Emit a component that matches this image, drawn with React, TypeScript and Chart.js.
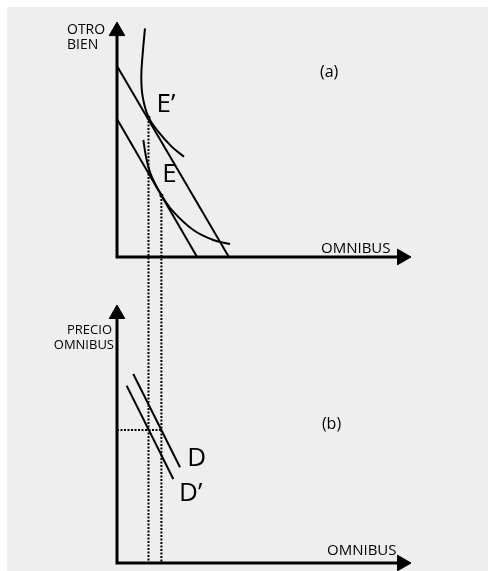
import React, { useEffect, useRef } from "react";
import { Chart, registerables } from "chart.js";
Chart.register(...registerables);

// ---------- Data (diagram units) ----------
// Panel (a): x = omnibus, y = other good
const budgetHighX = [0, 37.3];
const budgetHighY = [63.7, 0];
const budgetLowX = [0, 26.7];
const budgetLowY = [46, 0];
const indiffHighX = [9.33, 8.57, 8.1, 8.57, 10.43, 13.77, 18.23, 22.33];
const indiffHighY = [76.2, 67.9, 60.1, 53.4, 46.8, 41.8, 36.8, 33.4];
const indiffLowX = [8.77, 9.9, 11.57, 14.67, 18.77, 25.43, 32.1, 37.67];
const indiffLowY = [39, 32.3, 26.8, 20.9, 15.1, 9, 5.67, 4.33];
const eqLabels = ["E’", "E"];
const eqQuantity = [10.5, 14.8];
const eqOtherGood = [46.5, 20.5];
// Panel (b): x = omnibus, y = price of omnibus
const demandDX = [5.43, 21];
const demandDY = [63, 31.9];
const demandD2X = [3.23, 18.77];
const demandD2Y = [59.1, 28];
const busPrice = 44.3;
// Axis extents (diagram units)
const axisAX = 95;
const axisAY = 75.3;
const axisBX = 95;
const axisBY = 83;

// ---------- Layout ----------
const W = 488;
const H = 571;
const PX = 3; // pixels per unit
const ORIGIN_X = 117;
const ORIGIN_A_Y = 257;
const ORIGIN_B_Y = 563;
const FONT = "'Open Sans', 'DejaVu Sans', sans-serif";

const pts = (xs: number[], ys: number[]) => xs.map((x, i) => ({ x, y: ys[i] }));

type Label = { text: string; x: number; y: number; axis: "ya" | "yb"; size: number; align: CanvasTextAlign };
const labels: Label[] = [
  { text: "OTRO", x: -16.67, y: 74.33, axis: "ya", size: 14, align: "left" },
  { text: "BIEN", x: -16.67, y: 69.33, axis: "ya", size: 14, align: "left" },
  { text: "(a)", x: 67.67, y: 60, axis: "ya", size: 16, align: "left" },
  { text: eqLabels[0], x: 13.2, y: 48.3, axis: "ya", size: 26, align: "left" },
  { text: eqLabels[1], x: 15.1, y: 25.1, axis: "ya", size: 26, align: "left" },
  { text: "OMNIBUS", x: 68, y: 1.33, axis: "ya", size: 15, align: "left" },
  { text: "PRECIO", x: -1.67, y: 76.3, axis: "yb", size: 13, align: "right" },
  { text: "OMNIBUS", x: -1, y: 71.3, axis: "yb", size: 13, align: "right" },
  { text: "(b)", x: 68.3, y: 44.7, axis: "yb", size: 16, align: "left" },
  { text: "D", x: 23.4, y: 32.3, axis: "yb", size: 26, align: "left" },
  { text: "D’", x: 20.7, y: 20.7, axis: "yb", size: 26, align: "left" },
  { text: "OMNIBUS", x: 70, y: 2.67, axis: "yb", size: 15, align: "left" },
];

const overlayPlugin = {
  id: "overlay",
  afterDatasetsDraw(chart: any) {
    const ctx = chart.ctx as CanvasRenderingContext2D;
    const sx = chart.scales.x;
    const ya = chart.scales.ya;
    const yb = chart.scales.yb;
    ctx.save();
    // vertical dotted lines from equilibria down to panel (b)
    ctx.strokeStyle = "#000";
    ctx.lineWidth = 2;
    ctx.setLineDash([2, 1.5]);
    eqQuantity.forEach((q, i) => {
      const px = sx.getPixelForValue(q);
      ctx.beginPath();
      ctx.moveTo(px, ya.getPixelForValue(eqOtherGood[i]));
      ctx.lineTo(px, yb.getPixelForValue(0));
      ctx.stroke();
    });
    ctx.setLineDash([]);
    // labels
    ctx.fillStyle = "#000";
    ctx.textBaseline = "alphabetic";
    labels.forEach((l) => {
      const s = l.axis === "ya" ? ya : yb;
      ctx.font = `${l.size}px ${FONT}`;
      ctx.textAlign = l.align;
      ctx.fillText(l.text, sx.getPixelForValue(l.x), s.getPixelForValue(l.y));
    });
    ctx.restore();
  },
};

export default function App() {
  const ref = useRef<HTMLCanvasElement | null>(null);
  useEffect(() => {
    if (!ref.current) return;
    const line = (data: any[], axis: string, extra: any = {}) => ({
      data,
      yAxisID: axis,
      showLine: true,
      borderColor: "#000",
      backgroundColor: "#000",
      borderWidth: 2,
      pointRadius: 0,
      fill: false,
      tension: 0,
      clip: false,
      ...extra,
    });
    const axisStyle = {
      borderWidth: 3,
      borderJoinStyle: "miter",
      borderCapStyle: "butt",
      pointStyle: "triangle",
      pointRadius: [9, 0, 9],
      rotation: [0, 0, 90],
      pointBackgroundColor: "#000",
      pointBorderColor: "#000",
      pointBorderWidth: 1,
    };
    const chart = new Chart(ref.current, {
      type: "scatter",
      data: {
        datasets: [
          line([{ x: 0, y: axisAY }, { x: 0, y: 0 }, { x: axisAX, y: 0 }], "ya", axisStyle),
          line([{ x: 0, y: axisBY }, { x: 0, y: 0 }, { x: axisBX, y: 0 }], "yb", axisStyle),
          line(pts(budgetHighX, budgetHighY), "ya"),
          line(pts(budgetLowX, budgetLowY), "ya"),
          line(pts(indiffHighX, indiffHighY), "ya", { tension: 0.4 }),
          line(pts(indiffLowX, indiffLowY), "ya", { tension: 0.4 }),
          line(pts(eqQuantity, eqOtherGood), "ya", { showLine: false, pointRadius: 2, pointBorderWidth: 0 }),
          line(pts(demandDX, demandDY), "yb"),
          line(pts(demandD2X, demandD2Y), "yb"),
          line([{ x: 0, y: busPrice }, { x: eqQuantity[1], y: busPrice }], "yb", { borderDash: [2, 1.5] }),
        ],
      },
      options: {
        responsive: false,
        animation: false,
        events: [],
        layout: { padding: 0, autoPadding: false },
        plugins: { legend: { display: false }, tooltip: { enabled: false } },
        scales: {
          x: { type: "linear", display: false, min: -ORIGIN_X / PX, max: (W - ORIGIN_X) / PX },
          ya: { type: "linear", display: false, min: -(H - ORIGIN_A_Y) / PX, max: ORIGIN_A_Y / PX },
          yb: { type: "linear", display: false, min: -(H - ORIGIN_B_Y) / PX, max: ORIGIN_B_Y / PX },
        },
      } as any,
      plugins: [overlayPlugin],
    });
    return () => chart.destroy();
  }, []);
  return (
    <>
      <div style={{ position: "fixed", left: 7, top: 7, width: W - 7, height: H - 7, background: "#eeeeee" }} />
      <canvas ref={ref} width={W} height={H} style={{ position: "fixed", left: 0, top: 0, width: W, height: H }} />
    </>
  );
}
